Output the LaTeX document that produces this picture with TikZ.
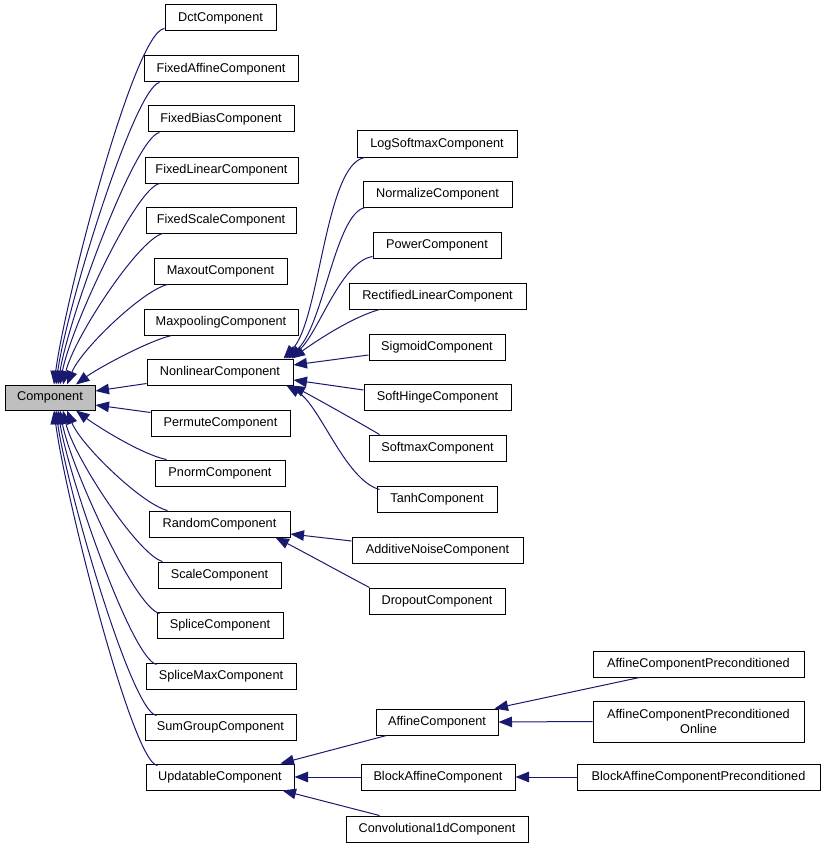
\documentclass[tikz,border=0pt]{standalone}
\usepackage{fontspec}
\setmainfont{Liberation Sans}
\usetikzlibrary{arrows.meta}
\definecolor{edgeblue}{HTML}{191970}
\definecolor{basegray}{HTML}{BFBFBF}
\tikzset{
  box/.style={draw=black, line width=1pt, fill=white, inner sep=0pt, minimum height=26pt,
    font=\fontsize{12.7}{15}\selectfont, align=center},
  edge/.style={draw=edgeblue, line width=1pt, -{Triangle[length=13.5pt,width=10.5pt]}},
}
\begin{document}
\begin{tikzpicture}[x=1pt,y=-1pt]
\useasboundingbox (0,0) rectangle (825,848);
% base
\node[box, fill=basegray, minimum width=90pt, minimum height=25pt] (comp) at (50,397.5) {Component};
% column 1
\node[box, minimum width=111pt] (dct) at (220.5,18) {DctComponent};
\node[box, minimum width=154pt] (fixaff) at (221,69) {FixedAffineComponent};
\node[box, minimum width=146pt] (fixbias) at (221,119) {FixedBiasComponent};
\node[box, minimum width=153pt] (fixlin) at (221.5,170) {FixedLinearComponent};
\node[box, minimum width=150pt] (fixscale) at (221,220) {FixedScaleComponent};
\node[box, minimum width=133pt] (maxout) at (220.5,271) {MaxoutComponent};
\node[box, minimum width=154pt] (maxpool) at (221,322) {MaxpoolingComponent};
\node[box, minimum width=146pt] (nonlin) at (220,372) {NonlinearComponent};
\node[box, minimum width=139pt] (permute) at (220.5,423) {PermuteComponent};
\node[box, minimum width=130pt] (pnorm) at (220,473) {PnormComponent};
\node[box, minimum width=141pt] (random) at (219.5,524) {RandomComponent};
\node[box, minimum width=123pt] (scale) at (219.5,575) {ScaleComponent};
\node[box, minimum width=126pt] (splice) at (220,625) {SpliceComponent};
\node[box, minimum width=150pt] (splicemax) at (221,676) {SpliceMaxComponent};
\node[box, minimum width=151pt] (sumgroup) at (220.5,727) {SumGroupComponent};
\node[box, minimum width=148pt] (updatable) at (220,777) {UpdatableComponent};
% column 2
\node[box, minimum width=160pt] (logsoft) at (437,144) {LogSoftmaxComponent};
\node[box, minimum width=149pt] (normalize) at (437.5,194) {NormalizeComponent};
\node[box, minimum width=128pt] (power) at (437,245) {PowerComponent};
\node[box, minimum width=177pt] (rectified) at (437.5,296) {RectifiedLinearComponent};
\node[box, minimum width=136pt] (sigmoid) at (437,347) {SigmoidComponent};
\node[box, minimum width=147pt] (softhinge) at (437.5,397) {SoftHingeComponent};
\node[box, minimum width=137pt] (softmax) at (437.5,448) {SoftmaxComponent};
\node[box, minimum width=120pt] (tanh) at (437,499) {TanhComponent};
\node[box, minimum width=171pt] (addnoise) at (437.5,550) {AdditiveNoiseComponent};
\node[box, minimum width=136pt] (dropout) at (437,601) {DropoutComponent};
\node[box, minimum width=122pt] (affine) at (437,722) {AffineComponent};
\node[box, minimum width=154pt] (blockaff) at (438,777) {BlockAffineComponent};
\node[box, minimum width=182pt] (conv) at (437,829) {Convolutional1dComponent};
% column 3
\node[box, minimum width=211pt] (acp) at (698.5,664) {AffineComponentPreconditioned};
\node[box, minimum width=211pt, minimum height=41pt] (acpo) at (698.5,721.5) {AffineComponentPreconditioned\\Online};
\node[box, minimum width=243pt] (bacp) at (698.5,777) {BlockAffineComponentPreconditioned};
% edges to Component (top group)
\draw[edge] ([yshift=3]dct.south west) .. controls +(-30,2) and +(11,-85) .. ([xshift=4]comp.north);
\draw[edge] ([xshift=16]fixaff.south west) .. controls +(-25,5) and +(10,-75) .. ([xshift=6]comp.north);
\draw[edge] ([xshift=12]fixbias.south west) .. controls +(-25,5) and +(10,-65) .. ([xshift=8]comp.north);
\draw[edge] ([xshift=15]fixlin.south west) .. controls +(-25,6) and +(10,-55) .. ([xshift=10]comp.north);
\draw[edge] ([xshift=17]fixscale.south west) .. controls +(-25,7) and +(10,-45) .. ([xshift=13]comp.north);
\draw[edge] ([xshift=14]maxout.south west) .. controls +(-25,6) and +(14,-35) .. ([xshift=17]comp.north);
\draw[edge] ([xshift=28]maxpool.south west) .. controls +(-25,6) and +(20,-15) .. ([xshift=26]comp.north);
\draw[edge] ([yshift=2]nonlin.south west) -- ([yshift=6.5]comp.east);
\draw[edge] ([yshift=-3]permute.north west) -- ([yshift=-7.5]comp.east);
% bottom group
\draw[edge] ([xshift=12]pnorm.north west) .. controls +(-25,-5) and +(20,15) .. ([xshift=26]comp.south);
\draw[edge] ([xshift=19]random.north west) .. controls +(-25,-6) and +(14,35) .. ([xshift=17]comp.south);
\draw[edge] ([xshift=5]scale.north west) .. controls +(-25,-7) and +(10,45) .. ([xshift=13]comp.south);
\draw[edge] ([xshift=3,yshift=-2]splice.north west) .. controls +(-25,-6) and +(10,55) .. ([xshift=10]comp.south);
\draw[edge] ([xshift=11,yshift=-2]splicemax.north west) .. controls +(-25,-6) and +(10,65) .. ([xshift=8]comp.south);
\draw[edge] ([xshift=12,yshift=-2]sumgroup.north west) .. controls +(-25,-3) and +(10,75) .. ([xshift=6]comp.south);
\draw[edge] ([xshift=12,yshift=-2]updatable.north west) .. controls +(-25,-2) and +(11,85) .. ([xshift=4]comp.south);
% Nonlinear children
\draw[edge] ([xshift=8]logsoft.south west) .. controls (325,165) and (320,320) .. ([xshift=-10]nonlin.north east);
\draw[edge] ([xshift=3]normalize.south west) .. controls (335,212) and (323,330) .. ([xshift=-8]nonlin.north east);
\draw[edge] ([yshift=2]power.south west) .. controls (340,262) and (318,335) .. ([xshift=-5]nonlin.north east);
\draw[edge] ([xshift=31]rectified.south west) .. controls (350,318) and (315,342) .. ([xshift=-2]nonlin.north east);
\draw[edge] ([yshift=-8]sigmoid.west) -- ([yshift=7]nonlin.east);
\draw[edge] ([yshift=7]softhinge.west) -- ([yshift=-8]nonlin.east);
\draw[edge] ([xshift=11]softmax.north west) .. controls (355,420) and (310,395) .. ([xshift=-2]nonlin.south east);
\draw[edge] ([xshift=3,yshift=-4]tanh.north west) .. controls (345,480) and (320,405) .. ([xshift=-7]nonlin.south east);
% Random children
\draw[edge] ([yshift=9]addnoise.west) -- ([yshift=-10]random.east);
\draw[edge] ([xshift=1]dropout.north west) .. controls (355,580) and (300,550) .. ([xshift=-15]random.south east);
% Updatable children
\draw[edge] ([xshift=11]affine.south west) -- ([xshift=-14]updatable.north east);
\draw[edge] (blockaff.west) -- (updatable.east);
\draw[edge] ([xshift=34]conv.north west) -- ([xshift=-12]updatable.south east);
% Affine children
\draw[edge] ([xshift=47]acp.south west) -- ([xshift=-4]affine.north east);
\draw[edge] (acpo.west) -- (affine.east);
\draw[edge] (bacp.west) -- (blockaff.east);
\end{tikzpicture}
\end{document}
